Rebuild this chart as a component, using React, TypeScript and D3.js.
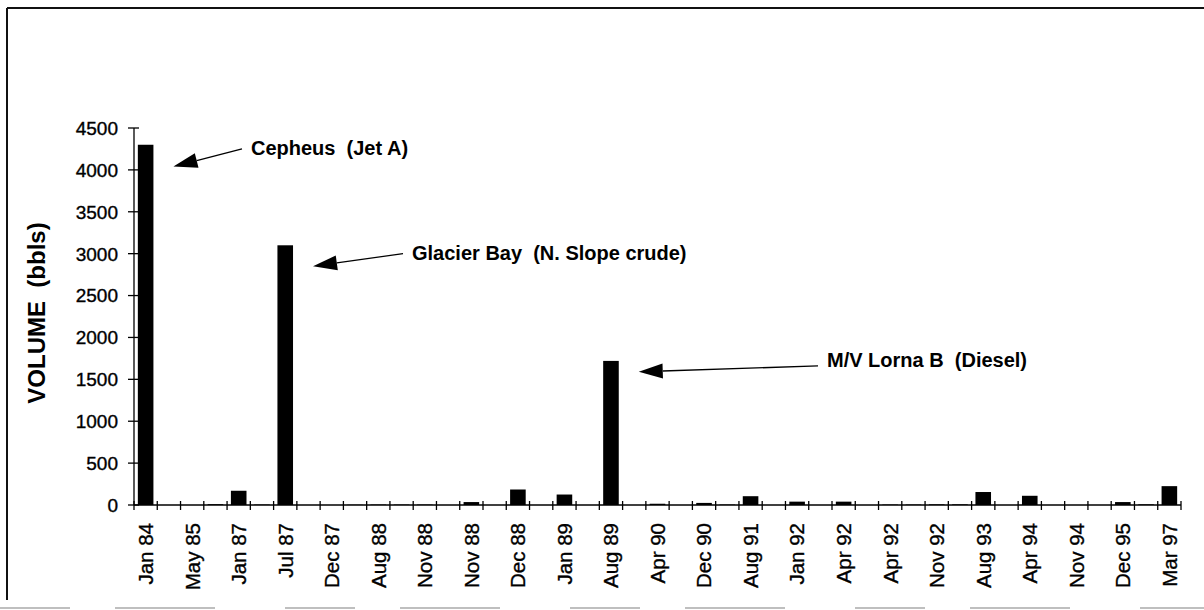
import React from "react";
import * as d3 from "d3";

// ---- data ----
const tickLabels = [
  "Jan 84", "May 85", "Jan 87", "Jul 87", "Dec 87", "Aug 88", "Nov 88", "Nov 88",
  "Dec 88", "Jan 89", "Aug 89", "Apr 90", "Dec 90", "Aug 91", "Jan 92", "Apr 92",
  "Apr 92", "Nov 92", "Aug 93", "Apr 94", "Nov 94", "Dec 95", "Mar 97",
];
// one value per category slot (45 slots, every other one labelled)
const volumes = [
  4300, 0, 0, 10, 170, 5, 3100, 0, 0, 3,
  5, 5, 5, 0, 35, 0, 185, 0, 125, 0,
  1720, 0, 15, 0, 25, 5, 105, 0, 40, 0,
  40, 0, 5, 5, 8, 8, 155, 0, 110, 0,
  0, 0, 35, 8, 225,
];
const yTicks = [0, 500, 1000, 1500, 2000, 2500, 3000, 3500, 4000, 4500];
const annotations = [
  { text: "Cepheus  (Jet A)", index: 0, tipValue: 4040, startValue: 4250, textValue: 4175 },
  { text: "Glacier Bay  (N. Slope crude)", index: 6, tipValue: 2850, startValue: 3000, textValue: 2930 },
  { text: "M/V Lorna B  (Diesel)", index: 20, tipValue: 1590, startValue: 1660, textValue: 1650 },
];
const textXs = [251, 412, 827];
const yAxisTitle = "VOLUME  (bbls)";

const W = 1204;
const H = 610;
const FONT = "'Liberation Sans', Arial, Helvetica, sans-serif";

export default function App() {
  const n = volumes.length;
  const x0 = 134;
  const x1 = 1181;
  const y0 = 505;
  const yTop = 128;
  const x = d3
    .scaleBand<number>()
    .domain(d3.range(n))
    .range([x0, x1])
    .paddingInner(0.33)
    .paddingOuter(0.165);
  const y = d3.scaleLinear().domain([0, 4500]).range([y0, yTop]);
  const step = x.step();
  const bw = x.bandwidth();
  const boundaries = d3.range(n + 1).map((i) => x0 + step * i);

  const arrow = (sx: number, sy: number, tx: number, ty: number, key: string) => {
    const ang = Math.atan2(ty - sy, tx - sx);
    const len = 24;
    const hw = 7.5;
    const bx = tx - len * Math.cos(ang);
    const by = ty - len * Math.sin(ang);
    const px = -Math.sin(ang);
    const py = Math.cos(ang);
    const pts = [
      [tx, ty],
      [bx + px * hw, by + py * hw],
      [bx - px * hw, by - py * hw],
    ];
    return (
      <g key={key}>
        <line x1={sx} y1={sy} x2={bx} y2={by} stroke="#000" strokeWidth={1.3} />
        <polygon points={pts.map((p) => p.join(",")).join(" ")} fill="#000" />
      </g>
    );
  };

  const heavy = { stroke: "#000", strokeWidth: 0.35 };

  return (
    <svg
      width={W}
      height={H}
      style={{ position: "fixed", left: 0, top: 0, background: "#fff", whiteSpace: "pre" }}
      fontFamily={FONT}
    >
      <rect x={0} y={0} width={W} height={H} fill="#fff" />
      {/* frame */}
      <line x1={7} y1={8} x2={W} y2={8} stroke="#111" strokeWidth={2} />
      <line x1={7} y1={8} x2={7} y2={600} stroke="#111" strokeWidth={2} />
      <line x1={0} y1={608} x2={W} y2={608} stroke="#aaa" strokeWidth={1.5} strokeDasharray="70 45 100 70" />

      {/* bars */}
      {volumes.map((v, i) => (
        <rect key={i} x={x(i)} y={y(v)} width={bw} height={Math.max(0, y0 - y(v))} fill="#000" />
      ))}

      {/* y axis */}
      <line x1={x0} y1={yTop} x2={x0} y2={y0} stroke="#000" strokeWidth={1.3} />
      {yTicks.map((t) => (
        <g key={t}>
          <line x1={x0 - 6} x2={x0 + 5} y1={y(t)} y2={y(t)} stroke="#000" strokeWidth={1.3} />
          <text x={118} y={y(t)} dy="0.36em" textAnchor="end" fontSize={19} fill="#000" {...heavy}>
            {t}
          </text>
        </g>
      ))}
      <text
        transform={`translate(45,${313}) rotate(-90)`}
        textAnchor="middle"
        fontSize={24}
        fontWeight="bold"
        fill="#000"
        xmlSpace="preserve"
      >
        {yAxisTitle}
      </text>

      {/* x axis */}
      <line x1={x0} y1={y0} x2={x1} y2={y0} stroke="#000" strokeWidth={1.3} />
      {boundaries.map((bx, i) => (
        <line key={i} x1={bx} x2={bx} y1={y0 - 4} y2={y0 + 5} stroke="#000" strokeWidth={1.3} />
      ))}
      {tickLabels.map((lab, j) => {
        const cx = (x(j * 2) as number) + bw / 2;
        return (
          <text
            key={j}
            transform={`translate(${cx},${523}) rotate(-90)`}
            dy="0.36em"
            textAnchor="end"
            fontSize={20.5}
            fill="#000"
            {...heavy}
          >
            {lab}
          </text>
        );
      })}

      {/* annotations */}
      {annotations.map((a, k) => {
        const tipX = (x(a.index) as number) + bw + 20;
        const tipY = y(a.tipValue);
        const sx = textXs[k] - 9;
        const sy = y(a.startValue);
        return (
          <g key={k}>
            {arrow(sx, sy, tipX, tipY, "a" + k)}
            <text
              x={textXs[k]}
              y={y(a.textValue)}
              fontSize={20}
              fontWeight="bold"
              fill="#000"
              xmlSpace="preserve"
            >
              {a.text}
            </text>
          </g>
        );
      })}
    </svg>
  );
}
